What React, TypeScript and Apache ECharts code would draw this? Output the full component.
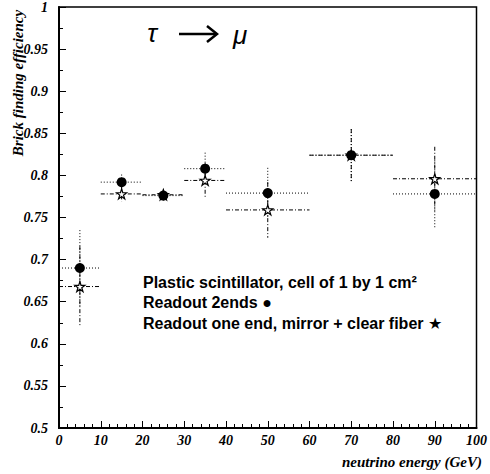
import React, { useEffect, useRef } from "react";
import * as echarts from "echarts";

const xCenters = [5, 15, 25, 35, 50, 70, 90];
const xLow = [0, 10, 20, 30, 40, 60, 80];
const xHigh = [10, 20, 30, 40, 60, 80, 100];
const circleEff = [0.69, 0.792, 0.776, 0.808, 0.779, 0.824, 0.778];
const circleErr = [0.045, 0.009, 0.007, 0.019, 0.03, 0.031, 0.04];
const starEff = [0.668, 0.778, 0.777, 0.794, 0.759, 0.824, 0.796];
const starErr = [0.048, 0.009, 0.007, 0.021, 0.033, 0.031, 0.038];

const legendLines = [
  "Plastic scintillator, cell of 1 by 1 cm²",
  "Readout 2ends ●",
  "Readout one end, mirror + clear fiber ★",
];

const STAR =
  "path://M50,2 L61.8,38.2 L99.9,38.2 L69.1,60.6 L80.9,96.8 L50,74.4 L19.1,96.8 L30.9,60.6 L0.1,38.2 L38.2,38.2 Z";

const serif = "'Liberation Serif', 'DejaVu Serif', serif";
const sans = "'Liberation Sans', 'DejaVu Sans', sans-serif";

function errSeries(name: string, eff: number[], err: number[], dash: number[], z: number) {
  const data = xCenters.map((x, i) => [x, eff[i], xLow[i], xHigh[i], err[i]]);
  return {
    type: "custom",
    name,
    z,
    silent: true,
    data,
    renderItem: (params: any, api: any) => {
      const x = api.value(0);
      const y = api.value(1);
      const lo = api.value(2);
      const hi = api.value(3);
      const e = api.value(4);
      const pL = api.coord([lo, y]);
      const pR = api.coord([hi, y]);
      const pT = api.coord([x, y + e]);
      const pB = api.coord([x, y - e]);
      const style = { stroke: "#000", lineWidth: 1, lineDash: dash, fill: null };
      return {
        type: "group",
        children: [
          { type: "line", shape: { x1: pL[0], y1: pL[1], x2: pR[0], y2: pR[1] }, style },
          { type: "line", shape: { x1: pT[0], y1: pT[1], x2: pB[0], y2: pB[1] }, style },
        ],
      };
    },
  };
}

export default function App() {
  const ref = useRef<HTMLDivElement>(null);
  useEffect(() => {
    if (!ref.current) return;
    const chart = echarts.init(ref.current, null, { renderer: "svg" });
    const option: any = {
      animation: false,
      backgroundColor: "#fff",
      grid: {
        left: 59,
        top: 5,
        right: 8,
        bottom: 46,
        show: true,
        borderColor: "#000",
        borderWidth: 1.5,
        backgroundColor: "transparent",
      },
      xAxis: {
        type: "value",
        min: 0,
        max: 100,
        interval: 10,
        axisLine: { show: true, onZero: false, lineStyle: { color: "#000", width: 2 } },
        axisTick: { show: true, inside: true, length: 7, lineStyle: { color: "#000" } },
        minorTick: { show: true, splitNumber: 5, length: 4, lineStyle: { color: "#000" } },
        splitLine: { show: false },
        axisLabel: {
          color: "#000",
          fontFamily: serif,
          fontWeight: "bold",
          fontStyle: "italic",
          fontSize: 14,
          margin: 5,
        },
      },
      yAxis: {
        type: "value",
        min: 0.5,
        max: 1,
        interval: 0.05,
        axisLine: { show: true, onZero: false, lineStyle: { color: "#000", width: 2 } },
        axisTick: { show: true, inside: true, length: 7, lineStyle: { color: "#000" } },
        minorTick: { show: true, splitNumber: 2, length: 4, lineStyle: { color: "#000" } },
        splitLine: { show: false },
        axisLabel: {
          color: "#000",
          fontFamily: serif,
          fontWeight: "bold",
          fontStyle: "italic",
          fontSize: 14,
          margin: 11,
          formatter: (v: number) => String(+v.toFixed(2)),
        },
      },
      series: [
        errSeries("starErr", starEff, starErr, [4, 2, 1, 2], 2),
        errSeries("circleErr", circleEff, circleErr, [1, 2], 3),
        {
          type: "scatter",
          name: "star",
          z: 4,
          symbol: STAR,
          symbolSize: 10,
          itemStyle: { color: "#fff", borderColor: "#000", borderWidth: 1.2, opacity: 1 },
          data: xCenters.map((x, i) => [x, starEff[i]]),
        },
        {
          type: "scatter",
          name: "circle",
          z: 5,
          symbol: "circle",
          symbolSize: 10,
          itemStyle: { color: "#000", opacity: 1 },
          data: xCenters.map((x, i) => [x, circleEff[i]]),
        },
      ],
      graphic: [
        {
          type: "text",
          x: 18,
          y: 83,
          rotation: Math.PI / 2,
          style: {
            text: "Brick finding efficiency",
            fill: "#000",
            font: `italic bold 15px ${serif}`,
            align: "center",
            verticalAlign: "middle",
          },
        },
        {
          type: "text",
          x: 482,
          y: 462,
          style: {
            text: "neutrino energy (GeV)",
            fill: "#000",
            font: `italic bold 15px ${serif}`,
            align: "right",
            verticalAlign: "middle",
          },
        },
        {
          type: "text",
          x: 152,
          y: 33,
          style: {
            text: "τ",
            fill: "#000",
            font: `italic 26px ${sans}`,
            align: "center",
            verticalAlign: "middle",
          },
        },
        {
          type: "line",
          shape: { x1: 179, y1: 34, x2: 216, y2: 34 },
          style: { stroke: "#000", lineWidth: 2.5 },
        },
        {
          type: "polyline",
          shape: { points: [[207, 26], [217, 34], [207, 42]] },
          style: { stroke: "#000", lineWidth: 2.5, fill: null },
        },
        {
          type: "text",
          x: 240,
          y: 35,
          style: {
            text: "μ",
            fill: "#000",
            font: `italic 26px ${sans}`,
            align: "center",
            verticalAlign: "middle",
          },
        },
        ...legendLines.map((t, i) => ({
          type: "text",
          x: 143,
          y: 282 + i * 20.5,
          style: {
            text: t,
            fill: "#000",
            font: `bold 16px ${sans}`,
            align: "left",
            verticalAlign: "middle",
          },
        })),
      ],
    };
    chart.setOption(option);
    return () => chart.dispose();
  }, []);
  return (
    <div
      ref={ref}
      style={{ position: "fixed", left: 0, top: 0, width: 490, height: 474, background: "#fff" }}
    />
  );
}
